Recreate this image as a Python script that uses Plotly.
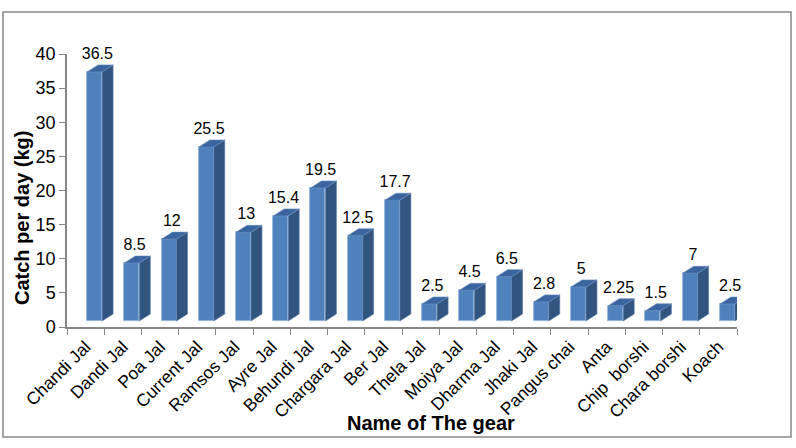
import plotly.graph_objects as go

categories = ["Chandi Jal", "Dandi Jal", "Poa Jal", "Current Jal", "Ramsos Jal", "Ayre Jal",
              "Behundi Jal", "Chargara Jal", "Ber Jal", "Thela Jal", "Moiya Jal", "Dharma Jal",
              "Jhaki Jal", "Pangus chai", "Anta", "Chip  borshi", "Chara borshi", "Koach"]
catch_kg = [36.5, 8.5, 12, 25.5, 13, 15.4, 19.5, 12.5, 17.7, 2.5, 4.5, 6.5, 2.8, 5, 2.25, 1.5, 7, 2.5]
label_text = ["36.5", "8.5", "12", "25.5", "13", "15.4", "19.5", "12.5", "17.7", "2.5", "4.5",
              "6.5", "2.8", "5", "2.25", "1.5", "7", "2.5"]
y_ticks = [0, 5, 10, 15, 20, 25, 30, 35, 40]

W, H = 796, 448
L, R, T, B = 67, 59, 54, 121
pw, ph = W - L - R, H - T - B
n = len(categories)
px_x = pw / n              # px per category
px_y = ph / 40.0           # px per unit
shift_x = 9 / px_x         # front face offset (3D floor)
shift_y = 6 / px_y
bw = 15 / px_x
dx = 11 / px_x
dy = 7 / px_y

FRONT = "#4F81BD"
SIDE = "#32557F"
TOP = "#3B65A0"
FONT = "Liberation Sans, Arial"

idx = list(range(n))

sx, sy = [], []
tx, ty = [], []
for i, v in zip(idx, catch_kg):
    r = i + bw / 2
    l = i - bw / 2
    sx += [r, r + dx, r + dx, r, r, None]
    sy += [0, dy, v + dy, v, 0, None]
    tx += [l, l + dx, r + dx, r, l, None]
    ty += [v, v + dy, v + dy, v, v, None]

fig = go.Figure()
fig.add_trace(go.Scatter(x=categories, y=[0] * n, mode="markers",
                         marker=dict(opacity=0), hoverinfo="skip", showlegend=False,
                         xaxis="x", yaxis="y"))
fig.add_trace(go.Scatter(x=sx, y=sy, fill="toself", fillcolor=SIDE, mode="lines",
                         line=dict(color="#5E7FAE", width=0.6), hoverinfo="skip",
                         showlegend=False, xaxis="x2", yaxis="y2"))
fig.add_trace(go.Bar(x=idx, y=catch_kg, width=bw, marker=dict(color=FRONT,
                     line=dict(color="#8DB0DC", width=0.8)),
                     showlegend=False, xaxis="x2", yaxis="y2"))
fig.add_trace(go.Scatter(x=tx, y=ty, fill="toself", fillcolor=TOP, mode="lines",
                         line=dict(color="#6D8FBF", width=0.6), hoverinfo="skip",
                         showlegend=False, xaxis="x2", yaxis="y2"))
fig.add_trace(go.Scatter(x=[i + dx * 0.25 for i in idx], y=[v + dy + 0.3 for v in catch_kg],
                         mode="text", text=label_text, textposition="top center",
                         textfont=dict(family=FONT, size=16, color="#000000"),
                         cliponaxis=False,
                         hoverinfo="skip", showlegend=False, xaxis="x2", yaxis="y2"))

fig.update_layout(
    width=W, height=H,
    margin=dict(l=L, r=R, t=T, b=B, pad=0, autoexpand=False),
    paper_bgcolor="white", plot_bgcolor="rgba(0,0,0,0)",
    font=dict(family=FONT, size=18, color="#000000"),
    bargap=0,
    xaxis=dict(type="category", range=[-0.5, n - 0.5], tickangle=-45,
               showline=True, linecolor="#868686", linewidth=1.5,
               ticks="outside", tickson="boundaries", ticklen=6, tickcolor="#868686",
               ticklabelstandoff=1,
               showgrid=False, zeroline=False, tickfont=dict(size=17.5, color="#000000"),
               automargin=False, fixedrange=True),
    yaxis=dict(range=[0, 40], tickvals=y_ticks, showline=True, linecolor="#868686",
               linewidth=1.5, ticks="outside", ticklen=6, tickcolor="#868686",
               showgrid=False, zeroline=False, automargin=False,
               tickfont=dict(size=18, color="#000000")),
    xaxis2=dict(overlaying="x", range=[-0.5 - shift_x, n - 0.5 - shift_x], visible=False),
    yaxis2=dict(overlaying="y", range=[-shift_y, 40 - shift_y], visible=False),
    annotations=[
        dict(text="<b>Name of The gear</b>", xref="paper", yref="paper",
             x=(431 - L) / pw, y=(H - B - 423) / ph, showarrow=False,
             xanchor="center", yanchor="middle",
             font=dict(size=20, color="#000000")),
        dict(text="<b>Catch per day (kg)</b>", xref="paper", yref="paper",
             x=(22 - L) / pw, y=(H - B - 218) / ph, showarrow=False, textangle=-90,
             xanchor="center", yanchor="middle",
             font=dict(size=20, color="#000000")),
    ],
    shapes=[dict(type="rect", xref="paper", yref="paper",
                 x0=(3 - L) / pw, x1=(791 - L) / pw,
                 y0=(H - B - 437) / ph, y1=(H - B - 12) / ph,
                 line=dict(color="#888888", width=1.5), fillcolor="rgba(0,0,0,0)",
                 layer="below")],
)

fig.write_html("out.html", config={"displayModeBar": False},
               post_script="document.body.style.margin='0px';")
